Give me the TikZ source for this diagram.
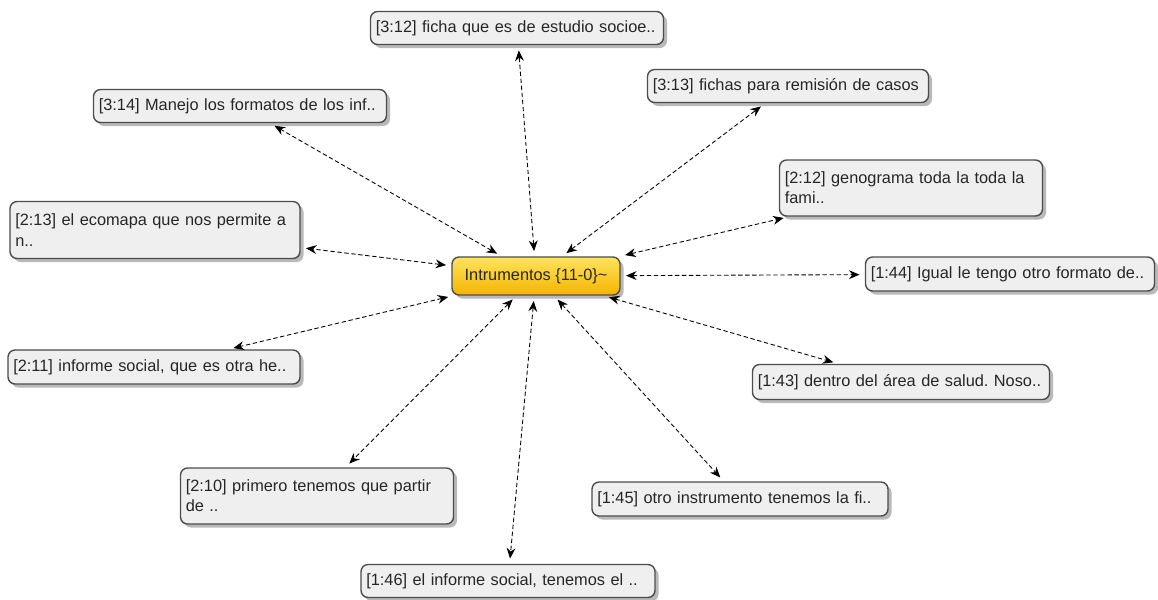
\documentclass[tikz,border=0pt]{standalone}
\usepackage{fontspec}
\setmainfont{Liberation Sans}
\usetikzlibrary{arrows.meta,shadows}
\definecolor{codetop}{HTML}{FFE45C}
\definecolor{codebot}{HTML}{F4B400}
\definecolor{quotefill}{HTML}{EFEFEF}
\frenchspacing

\begin{document}
\begin{tikzpicture}[x=0.02cm,y=-0.02cm,
    every node/.style = {font=\fontsize{9.3}{11.5}\selectfont, text=black!85},
    quote/.style = {draw=black!70, line width=0.8pt, rounded corners=4pt,
    fill=quotefill, align=left, inner sep=3pt, minimum height=0.66cm,
    drop shadow={shadow xshift=2pt, shadow yshift=-2pt, fill=black!55}},
    code/.style = {draw=black!70, line width=0.8pt, rounded corners=4pt,
    top color=codetop, bottom color=codebot, inner sep=3pt,
    minimum width=3.36cm, minimum height=0.76cm,
    drop shadow={shadow xshift=2pt, shadow yshift=-2pt, fill=black!55}},
    link/.style = {{Stealth[length=6pt,width=5pt]}-{Stealth[length=6pt,width=5pt]},
    dash pattern=on 2.5pt off 1.5pt, line width=0.5pt, shorten >=3pt, shorten <=3pt}]
    \useasboundingbox (0,0) rectangle (1158,599);
    \node[code] (c) at (536, 276) {Intrumentos \{11-0\}\textasciitilde};
    \node[quote, text width=5.65cm] (q312) at (517, 28) {[3:12] ficha que es de estudio socioe..};
    \node[quote, text width=5.65cm] (q314) at (240, 106) {[3:14] Manejo los formatos de los inf..};
    \node[quote, text width=5.41cm] (q313) at (788, 86) {[3:13] fichas para remisi\'on de casos};
    \node[quote, text width=5.05cm, minimum height=1.12cm] (q212) at (911, 188) {[2:12] genograma toda la toda la\\fami..};
    \node[quote, text width=5.59cm, minimum height=1.14cm] (q213) at (155, 230) {[2:13] el ecomapa que nos permite a\\n..};
    \node[quote, text width=5.57cm, minimum height=0.68cm] (q144) at (1010, 274) {[1:44] Igual le tengo otro formato de..};
    \node[quote, text width=5.63cm, minimum height=0.68cm] (q211) at (154, 367) {[2:11] informe social, que es otra he..};
    \node[quote, text width=5.73cm, minimum height=0.70cm] (q143) at (901, 382) {[1:43] dentro del \'area de salud. Noso..};
    \node[quote, text width=5.25cm, minimum height=1.12cm] (q210) at (317, 496) {[2:10] primero tenemos que partir\\de ..};
    \node[quote, text width=5.71cm, minimum height=0.68cm] (q145) at (740, 499) {[1:45] otro instrumento tenemos la fi..};
    \node[quote, text width=5.67cm] (q146) at (508, 581) {[1:46] el informe social, tenemos el ..};
    \foreach \q in {q312,q314,q313,q212,q213,q144,q211,q143,q210,q145,q146}
        \draw[link] (c) -- (\q);
\end{tikzpicture}
\end{document}
